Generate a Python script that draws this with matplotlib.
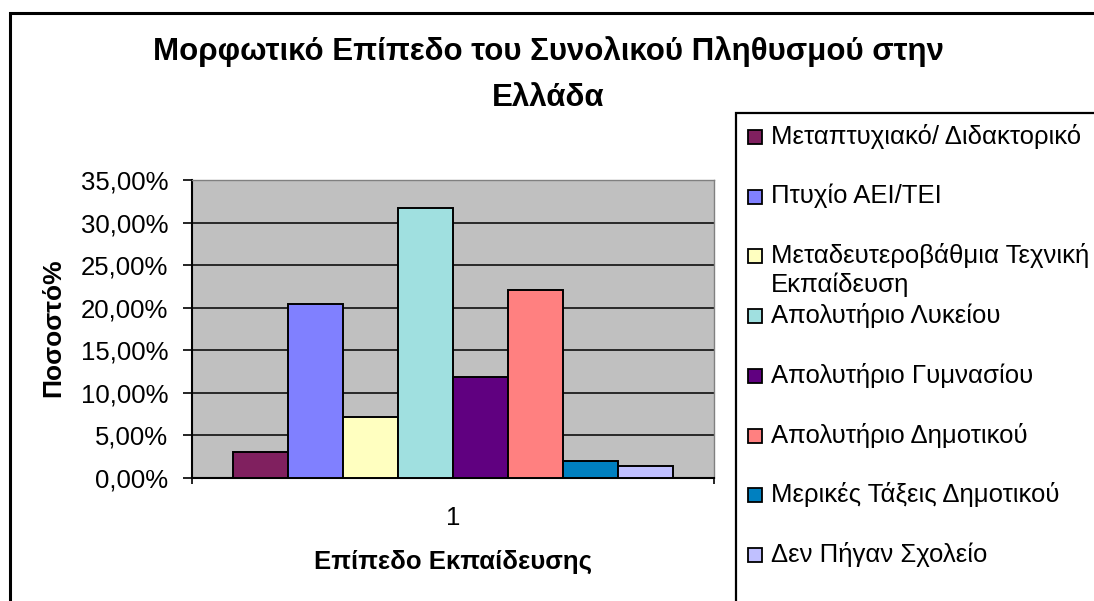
import matplotlib
matplotlib.use("Agg")
from matplotlib import pyplot as plt
from matplotlib.patches import Rectangle
from matplotlib.ticker import FuncFormatter, FixedLocator

plt.rcParams['font.family'] = ['Liberation Sans', 'DejaVu Sans']

# Data (percent of population)
categories = [
    "Μεταπτυχιακό/ Διδακτορικό",
    "Πτυχίο ΑΕΙ/ΤΕΙ",
    "Μεταδευτεροβάθμια Τεχνική\nΕκπαίδευση",
    "Απολυτήριο Λυκείου",
    "Απολυτήριο Γυμνασίου",
    "Απολυτήριο Δημοτικού",
    "Μερικές Τάξεις Δημοτικού",
    "Δεν Πήγαν Σχολείο",
]
values = [3.0, 20.4, 7.15, 31.7, 11.9, 22.1, 2.05, 1.4]
colors = ["#80205F", "#8080FF", "#FFFFC0", "#A0E0E0",
          "#600080", "#FF8080", "#0080C0", "#C0C0FF"]
y_ticks = [0, 5, 10, 15, 20, 25, 30, 35]
x_tick_label = "1"

W, H = 1094, 601
FS = 18.5
fig = plt.figure(figsize=(W / 100, H / 100), dpi=100)


def fx(px):
    return px / W


def fy(py):
    return 1 - py / H


# outer chart border (runs off the right / bottom edges like the original)
fig.patches.append(Rectangle((fx(10), -0.1), 1.2, fy(13) + 0.1,
                             transform=fig.transFigure, fill=False,
                             edgecolor="black", lw=2.2, zorder=0))

ax = fig.add_axes([fx(192), fy(478), (714 - 192) / W, (478 - 180) / H])
ax.set_facecolor("#C0C0C0")

n = len(values)
w = 1.0 / (n + 1.5)
start = -0.5 + 0.75 * w
for i, (lab, v, c) in enumerate(zip(categories, values, colors)):
    ax.bar(start + (i + 0.5) * w, v, width=w, color=c, edgecolor="black",
           linewidth=1.4, label=lab, zorder=3)

ax.set_xlim(-0.5, 0.5)
ax.set_ylim(0, 35)
ax.yaxis.set_major_locator(FixedLocator(y_ticks))
ax.yaxis.set_major_formatter(FuncFormatter(lambda v, p: f"{v:.2f}%".replace(".", ",")))
ax.grid(axis="y", color="black", lw=1.1, zorder=1)
ax.tick_params(axis="y", direction="out", length=6.5, width=1.2, labelsize=FS, pad=10.5)

ax.set_xticks([-0.5, 0.5])
ax.set_xticklabels(["", ""])
ax.tick_params(axis="x", direction="out", length=4.5, width=1.2)
ax.text(0.5, -(518 - 478) / 298, x_tick_label, transform=ax.transAxes,
        ha="center", va="center", fontsize=FS)

for s in ["left", "bottom"]:
    ax.spines[s].set_color("black")
    ax.spines[s].set_linewidth(1.5)
for s in ["top", "right"]:
    ax.spines[s].set_color("#808080")
    ax.spines[s].set_linewidth(1.0)

ax.set_xlabel("Επίπεδο Εκπαίδευσης", fontsize=FS, fontweight="bold")
ax.xaxis.set_label_coords(0.5, -(562 - 478) / 298)
ax.xaxis.label.set_va("center")

fig.text(fx(53), fy(328), "Ποσοστό%", rotation=90, ha="center", va="center",
         fontsize=19, fontweight="bold")

fig.text(fx(548), fy(52), "Μορφωτικό Επίπεδο του Συνολικού Πληθυσμού στην",
         ha="center", va="center", fontsize=22.5, fontweight="bold")
fig.text(fx(548), fy(98), "Ελλάδα",
         ha="center", va="center", fontsize=22.5, fontweight="bold")

# legend: frame runs off the edges, entries evenly spaced like Excel's
fig.patches.append(Rectangle((fx(736), -0.1), 1.0, fy(113) + 0.1,
                             transform=fig.transFigure, fill=False,
                             edgecolor="black", lw=1.6, zorder=0))
leg_y0, leg_step = 137, 59.7
for i, (lab, c) in enumerate(zip(categories, colors)):
    yc = leg_y0 + i * leg_step
    fig.patches.append(Rectangle((fx(748), fy(yc + 7)), 14 / W, 14 / H,
                                 transform=fig.transFigure, facecolor=c,
                                 edgecolor="black", lw=1.3))
    fig.text(fx(771), fy(yc - 13), lab, ha="left", va="top",
             fontsize=FS, linespacing=1.22)

fig.savefig("out.png", dpi=100)
